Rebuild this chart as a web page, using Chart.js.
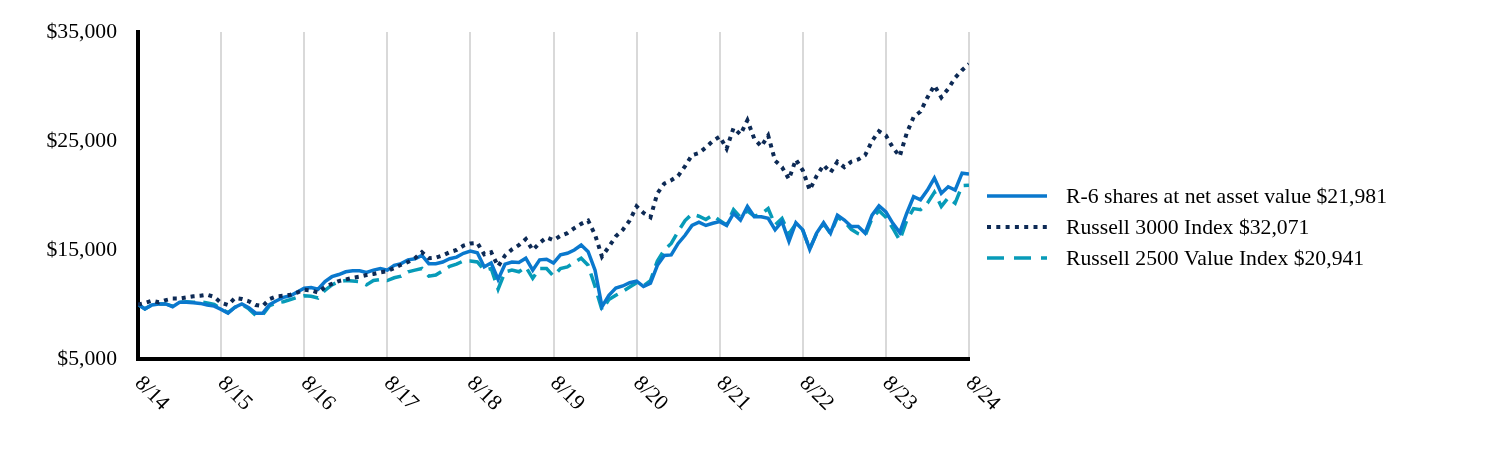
<!DOCTYPE html>
<html>
<head>
<meta charset="utf-8">
<title>Growth of $10,000</title>
<script src="https://cdn.jsdelivr.net/npm/chart.js"></script>
<style>
  html, body { margin: 0; padding: 0; background: #ffffff; }
  #wrap { width: 1512px; height: 456px; }
</style>
</head>
<body>
<div id="wrap"><canvas id="chart" width="1512" height="456"></canvas></div>
<script>
// year tick labels, one every 12 monthly points
const yearLabels = ['8/14', '8/15', '8/16', '8/17', '8/18', '8/19', '8/20', '8/21', '8/22', '8/23', '8/24'];
const yTicks = [5000, 15000, 25000, 35000];

const seriesNames = [
  'R-6 shares at net asset value $21,981',
  'Russell 3000 Index $32,071',
  'Russell 2500 Value Index $20,941'
];

// monthly values, 8/14 .. 8/24 (121 points)
const r6 = [
  10000, 9600, 9950, 10050, 10050, 9800, 10200, 10200, 10150, 10100, 9950, 9850,
  9550, 9200, 9750, 10050, 9700, 9200, 9200, 10000, 10350, 10650, 10800, 11150,
  11500, 11550, 11400, 12100, 12550, 12750, 13000, 13100, 13100, 12950, 13150, 13300,
  13150, 13600, 13750, 14100, 14200, 14500, 13750, 13750, 13900, 14200, 14350, 14700,
  14900, 14750, 13450, 13800, 12300, 13700, 13900, 13850, 14250, 13150, 14100, 14150,
  13800, 14550, 14700, 15000, 15450, 14850, 13150, 9800, 10850, 11500, 11700, 12000,
  12150, 11650, 11950, 13600, 14500, 14550, 15600, 16350, 17250, 17550, 17250, 17450,
  17600, 17250, 18350, 17750, 19000, 18050, 18050, 17900, 16850, 17600, 15800, 17500,
  16850, 15050, 16550, 17500, 16550, 18200, 17750, 17150, 17150, 16550, 18200, 19050,
  18500, 17450, 16600, 18350, 19900, 19600, 20500, 21600, 20200, 20800, 20500, 22050,
  21981
];

const russell3000 = [
  10000, 10150, 10350, 10200, 10400, 10550, 10550, 10650, 10750, 10800, 10900, 10700,
  10150, 9950, 10600, 10500, 10300, 9950, 9850, 10500, 10750, 10800, 10900, 11100,
  11350, 11300, 11100, 11600, 11900, 12150, 12300, 12450, 12550, 12700, 12800, 12950,
  13050, 13350, 13650, 13900, 14250, 14800, 14250, 14300, 14500, 14800, 15000, 15400,
  15600, 15650, 14600, 14800, 13500, 14500, 15050, 15450, 16000, 15000, 15650, 16150,
  15900, 16300, 16550, 17000, 17400, 17700, 16400, 14400, 15300, 16250, 16850, 17700,
  19000, 18400, 18000, 20200, 21100, 21400, 21800, 22700, 23700, 23900, 24400, 25000,
  25400, 24300, 26200, 25600, 26900, 25200, 24500, 25500, 23200, 22600, 21500, 23300,
  22300, 20500, 21800, 22800, 22100, 23100, 22600, 23100, 23300, 23700, 25000, 25900,
  25500, 24400, 23600, 25700, 27200, 27700, 29000, 30100, 29000, 29800, 30800, 31500,
  32071
];

const russell2500v = [
  10000, 9600, 9950, 10050, 10050, 9850, 10200, 10250, 10200, 10250, 10150, 10000,
  9600, 9250, 9750, 10000, 9600, 9000, 9050, 9900, 10150, 10250, 10450, 10650,
  10800, 10750, 10600, 11300, 11800, 12100, 12200, 12150, 12100, 11800, 12200, 12300,
  12200, 12450, 12600, 13000, 13150, 13300, 12600, 12700, 13100, 13500, 13700, 14000,
  14000, 13900, 13150, 13300, 11400, 13000, 13150, 13000, 13450, 12400, 13300, 13300,
  12600, 13300, 13450, 13850, 14250, 13600, 11650, 9500, 10450, 10850, 11200, 11600,
  12000, 11700, 12200, 14000, 15000, 15600, 16700, 17700, 18300, 18100, 17800, 18200,
  17700, 17300, 18700, 18000, 18600, 18100, 18300, 18800, 17300, 17900, 16500, 17400,
  16800, 15100, 16500, 17400, 16500, 18000, 17600, 16900, 16500, 16300, 17900, 18600,
  18000, 17000, 15900, 17700, 18800, 18700, 19300, 20300, 19000, 19800, 19300, 20900,
  20941
];

const serif = '"Liberation Serif", "Times New Roman", serif';
const textSize = 21.7;

const toPoints = arr => arr.map((v, i) => ({ x: i, y: v }));

// rotated year labels under the x axis
const yearLabelPlugin = {
  id: 'yearLabels',
  afterDraw(chart) {
    const ctx = chart.ctx;
    const xs = chart.scales.x;
    const bottom = chart.chartArea.bottom;
    ctx.save();
    ctx.font = textSize + 'px ' + serif;
    ctx.fillStyle = '#000';
    ctx.textAlign = 'left';
    ctx.textBaseline = 'middle';
    yearLabels.forEach((lab, k) => {
      const x = xs.getPixelForValue(k * 12);
      ctx.save();
      ctx.translate(x, bottom + 21);
      ctx.rotate(Math.PI / 4);
      ctx.fillText(lab, 0, 0);
      ctx.restore();
    });
    ctx.restore();
  }
};

// legend on the right with line samples
const sideLegendPlugin = {
  id: 'sideLegend',
  afterDraw(chart) {
    const ctx = chart.ctx;
    ctx.save();
    chart.data.datasets.forEach((ds, i) => {
      const y = 196 + i * 31;
      ctx.strokeStyle = ds.borderColor;
      ctx.lineWidth = ds.borderWidth;
      ctx.lineCap = 'butt';
      ctx.setLineDash(ds.legendDash || []);
      ctx.beginPath();
      ctx.moveTo(987, y);
      ctx.lineTo(1047, y);
      ctx.stroke();
      ctx.setLineDash([]);
      ctx.fillStyle = '#000';
      ctx.font = textSize + 'px ' + serif;
      ctx.textAlign = 'left';
      ctx.textBaseline = 'middle';
      ctx.fillText(ds.label, 1066, y + 1);
    });
    ctx.restore();
  }
};

new Chart(document.getElementById('chart'), {
  type: 'line',
  data: {
    datasets: [
      {
        label: seriesNames[0],
        data: toPoints(r6),
        borderColor: '#0a78cd',
        borderWidth: 3.5,
        pointRadius: 0,
        tension: 0,
        order: 1
      },
      {
        label: seriesNames[1],
        data: toPoints(russell3000),
        borderColor: '#0d2a55',
        borderWidth: 4,
        borderDash: [4, 5],
        legendDash: [4, 5.3],
        pointRadius: 0,
        tension: 0,
        order: 0
      },
      {
        label: seriesNames[2],
        data: toPoints(russell2500v),
        borderColor: '#079bb8',
        borderWidth: 3.5,
        borderDash: [15, 8],
        legendDash: [17, 10],
        pointRadius: 0,
        tension: 0,
        order: 2
      }
    ]
  },
  options: {
    responsive: false,
    devicePixelRatio: 1,
    animation: false,
    layout: { padding: { top: 32, right: 543, bottom: 97, left: 0 } },
    plugins: {
      legend: { display: false },
      tooltip: { enabled: false }
    },
    scales: {
      x: {
        type: 'linear',
        min: 0,
        max: 120,
        afterBuildTicks: scale => { scale.ticks = yearLabels.map((l, k) => ({ value: k * 12 })); },
        ticks: { display: false },
        grid: { color: '#d9d9d9', lineWidth: 2, drawTicks: false },
        border: { color: '#000', width: 4 }
      },
      y: {
        min: 5000,
        max: 35000,
        afterBuildTicks: scale => { scale.ticks = yTicks.map(v => ({ value: v })); },
        afterFit: scale => {
          scale.width = 138;
          scale.paddingTop = 0;
          scale.paddingBottom = 0;
        },
        ticks: {
          padding: 21,
          color: '#000',
          font: { family: serif, size: textSize },
          callback: v => '$' + v.toLocaleString('en-US')
        },
        grid: { display: false, drawTicks: false },
        border: { color: '#000', width: 4 }
      }
    }
  },
  plugins: [yearLabelPlugin, sideLegendPlugin]
});
</script>
</body>
</html>
